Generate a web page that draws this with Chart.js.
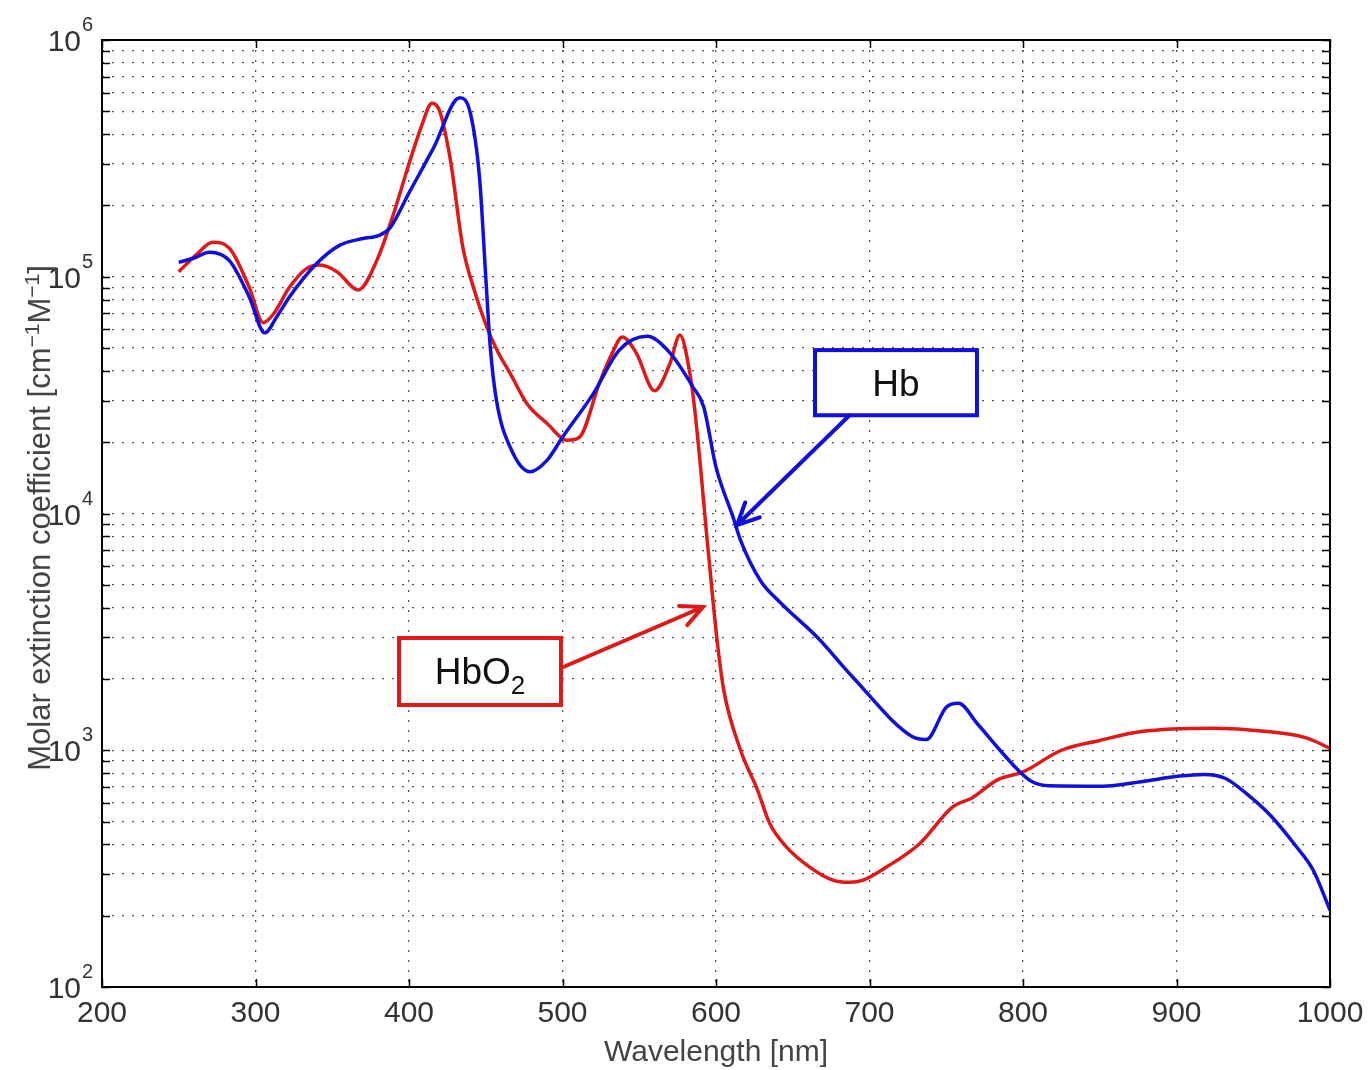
<!DOCTYPE html>
<html>
<head>
<meta charset="utf-8">
<script src="https://cdn.jsdelivr.net/npm/chart.js@4.4.1/dist/chart.umd.min.js"></script>
<style>
  html, body { margin: 0; padding: 0; background: #fff; }
  #wrap { width: 1369px; height: 1070px; position: relative; }
</style>
</head>
<body>
<div id="wrap"><canvas id="chart"></canvas></div>
<script>
// Hb (deoxy) spectrum
var hbWavelength = [250, 260, 270, 283, 296, 306, 314, 322, 340, 355, 370, 381, 388, 400, 416, 433, 440, 446, 450, 453, 457, 466, 479, 490, 500, 520, 537, 555, 570, 585, 592, 600, 611, 616, 629, 642, 666, 689, 728, 737, 750, 758, 770, 785, 798, 806, 817, 852, 877, 902, 918, 932, 945, 962, 978, 989, 1000];
var hbValues = [115000, 120000, 127000, 117000, 82000, 58000, 68000, 82000, 114000, 136000, 145000, 150000, 162000, 226000, 350000, 570000, 490000, 260000, 100000, 50000, 30000, 19000, 15000, 16800, 21000, 32000, 49000, 56000, 47700, 34200, 28200, 15700, 9700, 7700, 5200, 4200, 3000, 2040, 1140, 1110, 1520, 1580, 1300, 1000, 810, 736, 708, 705, 736, 778, 790, 760, 660, 524, 392, 312, 211];

// HbO2 spectrum
var hbo2Wavelength = [250, 262, 272, 283, 296, 305, 312, 322, 333, 342, 353, 367, 379, 390, 400, 408, 415, 420, 427, 435, 442, 450, 458, 466, 477, 490, 503, 511, 524, 532, 539, 548, 560, 570, 576.5, 583, 586, 590, 594, 596, 598, 601, 605, 616, 627, 635, 646, 661, 676, 687, 696, 711, 733, 754, 767, 783, 800, 825, 850, 877, 923, 959, 984, 1000];
var hbo2Values = [105000, 125000, 140000, 132000, 90000, 64000, 70000, 90000, 108000, 112000, 105000, 88000, 117000, 185000, 300000, 430000, 540000, 500000, 310000, 134000, 90000, 63000, 48000, 39000, 29000, 24000, 20400, 21000, 35500, 47000, 55700, 47700, 33000, 43000, 56800, 39000, 28000, 15500, 8000, 5900, 4300, 2800, 1800, 1000, 680, 490, 390, 321, 283, 277, 283, 321, 405, 575, 630, 748, 810, 1000, 1100, 1200, 1240, 1200, 1130, 1020];

var xTicks = [200, 300, 400, 500, 600, 700, 800, 900, 1000];
var yDecades = [2, 3, 4, 5, 6];

var yTickValues = [];
for (var d = 2; d < 6; d++) {
  for (var m = 1; m <= 9; m++) yTickValues.push(m * Math.pow(10, d));
}
yTickValues.push(1e6);

// callouts, in data units
var callouts = [
  { text: 'Hb', sub: '', color: '#1010dd', box: [664.5, 770, 49000, 26000], from: [687, 26000], to: [613.7, 8940] },
  { text: 'HbO', sub: '2', color: '#e01818', box: [393.5, 499, 2980, 1553], from: [499, 2226], to: [591.5, 4029] }
];

var FONT = '"Liberation Sans", Arial, sans-serif';

var axisDecor = {
  id: 'axisDecor',
  afterDraw: function (chart) {
    var ctx = chart.ctx, a = chart.chartArea;
    var xs = chart.scales.x, ys = chart.scales.y;
    ctx.save();

    // inward tick marks on all four sides
    ctx.strokeStyle = '#000';
    ctx.lineWidth = 1.5;
    ctx.beginPath();
    xTicks.forEach(function (v) {
      var px = Math.round(xs.getPixelForValue(v)) + 0.5;
      ctx.moveTo(px, a.bottom); ctx.lineTo(px, a.bottom - 8);
      ctx.moveTo(px, a.top); ctx.lineTo(px, a.top + 8);
    });
    yTickValues.forEach(function (v) {
      var py = Math.round(ys.getPixelForValue(v)) + 0.5;
      ctx.moveTo(a.left, py); ctx.lineTo(a.left + 8, py);
      ctx.moveTo(a.right, py); ctx.lineTo(a.right - 8, py);
    });
    ctx.stroke();

    ctx.lineWidth = 2;
    ctx.strokeRect(a.left, a.top, a.right - a.left, a.bottom - a.top);

    // tick labels
    ctx.fillStyle = '#333';
    ctx.font = '30px ' + FONT;
    ctx.textAlign = 'center';
    ctx.textBaseline = 'alphabetic';
    xTicks.forEach(function (v) {
      ctx.fillText(String(v), xs.getPixelForValue(v), a.bottom + 35);
    });
    yDecades.forEach(function (e) {
      var py = ys.getPixelForValue(Math.pow(10, e));
      ctx.font = '30px ' + FONT;
      ctx.textAlign = 'right';
      ctx.fillText('10', 81, py + 11);
      ctx.font = '20px ' + FONT;
      ctx.textAlign = 'left';
      ctx.fillText(String(e), 82, py - 9);
    });

    // axis titles
    ctx.fillStyle = '#444';
    ctx.font = '30px ' + FONT;
    ctx.textAlign = 'center';
    ctx.fillText('Wavelength [nm]', (a.left + a.right) / 2, 1061);

    ctx.save();
    ctx.translate(50, 0);
    ctx.rotate(-Math.PI / 2);
    var parts = [['Molar extinction coefficient [cm', 31, 0], ['\u22121', 21, -11], ['M', 31, 0], ['\u22121', 21, -11], [']', 31, 0]];
    var total = 0;
    parts.forEach(function (p) { ctx.font = p[1] + 'px ' + FONT; total += ctx.measureText(p[0]).width; });
    var x0 = -518 - total / 2;
    ctx.textAlign = 'left';
    parts.forEach(function (p) {
      ctx.font = p[1] + 'px ' + FONT;
      ctx.fillText(p[0], x0, p[2]);
      x0 += ctx.measureText(p[0]).width;
    });
    ctx.restore();

    // callouts
    callouts.forEach(function (c) {
      var l = xs.getPixelForValue(c.box[0]), r = xs.getPixelForValue(c.box[1]);
      var t = ys.getPixelForValue(c.box[2]), b = ys.getPixelForValue(c.box[3]);
      ctx.fillStyle = '#fff';
      ctx.fillRect(l, t, r - l, b - t);
      ctx.strokeStyle = c.color;
      ctx.lineWidth = 4;
      ctx.strokeRect(l, t, r - l, b - t);

      ctx.fillStyle = '#111';
      ctx.font = '37px ' + FONT;
      ctx.textBaseline = 'alphabetic';
      var w1 = ctx.measureText(c.text).width;
      ctx.font = '26px ' + FONT;
      var w2 = c.sub ? ctx.measureText(c.sub).width : 0;
      var tx = (l + r) / 2 - (w1 + w2) / 2;
      var ty = (t + b) / 2 + 13;
      ctx.textAlign = 'left';
      ctx.font = '37px ' + FONT;
      ctx.fillText(c.text, tx, ty);
      if (c.sub) {
        ctx.font = '26px ' + FONT;
        ctx.fillText(c.sub, tx + w1, ty + 10);
      }

      var fx = xs.getPixelForValue(c.from[0]), fy = ys.getPixelForValue(c.from[1]);
      var ex = xs.getPixelForValue(c.to[0]), ey = ys.getPixelForValue(c.to[1]);
      var ang = Math.atan2(ey - fy, ex - fx);
      ctx.strokeStyle = c.color;
      ctx.lineWidth = 4;
      ctx.lineCap = 'round';
      ctx.beginPath();
      ctx.moveTo(fx, fy); ctx.lineTo(ex, ey);
      ctx.moveTo(ex - 24 * Math.cos(ang - 0.45), ey - 24 * Math.sin(ang - 0.45));
      ctx.lineTo(ex, ey);
      ctx.lineTo(ex - 24 * Math.cos(ang + 0.45), ey - 24 * Math.sin(ang + 0.45));
      ctx.stroke();
    });

    ctx.restore();
  }
};

function toPoints(xsArr, vals) {
  var out = [];
  for (var i = 0; i < xsArr.length; i++) out.push({ x: xsArr[i], y: vals[i] });
  return out;
}

var ctx = document.getElementById('chart').getContext('2d');
new Chart(ctx, {
  type: 'line',
  data: {
    datasets: [
      {
        label: 'Hb',
        data: toPoints(hbWavelength, hbValues),
        borderColor: '#1010dd',
        borderWidth: 3.5,
        pointRadius: 0,
        cubicInterpolationMode: 'monotone',
        fill: false
      },
      {
        label: 'HbO2',
        data: toPoints(hbo2Wavelength, hbo2Values),
        borderColor: '#e01818',
        borderWidth: 3.5,
        pointRadius: 0,
        cubicInterpolationMode: 'monotone',
        fill: false
      }
    ]
  },
  options: {
    responsive: true,
    maintainAspectRatio: false,
    animation: false,
    layout: { padding: { top: 40, right: 39, left: 0, bottom: 0 } },
    plugins: { legend: { display: false }, tooltip: { enabled: false } },
    scales: {
      x: {
        type: 'linear',
        min: 200,
        max: 1000,
        afterBuildTicks: function (scale) {
          scale.ticks = xTicks.map(function (v) { return { value: v }; });
        },
        afterFit: function (scale) { scale.height = 83; },
        ticks: { display: false },
        grid: { color: '#555', lineWidth: 1.3, drawTicks: false },
        border: { display: false, dash: [2, 8] }
      },
      y: {
        type: 'logarithmic',
        min: 100,
        max: 1e6,
        afterBuildTicks: function (scale) {
          scale.ticks = yTickValues.map(function (v) { return { value: v }; });
        },
        afterFit: function (scale) { scale.width = 102; },
        ticks: { display: false },
        grid: { color: '#555', lineWidth: 1.3, drawTicks: false },
        border: { display: false, dash: [2, 8] }
      }
    }
  },
  plugins: [axisDecor]
});
</script>
</body>
</html>
